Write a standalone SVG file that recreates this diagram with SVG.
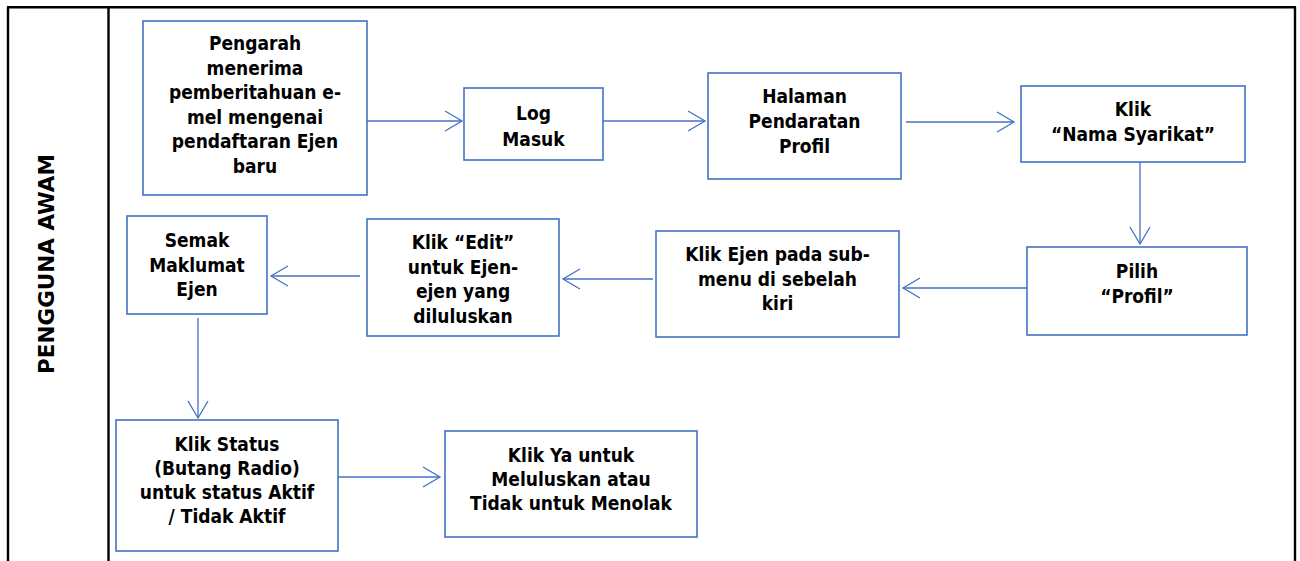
<svg xmlns="http://www.w3.org/2000/svg" width="1300" height="561" viewBox="0 0 1300 561">
<style>
.bx{fill:#fff;stroke:#4472C4;stroke-width:1.6}
.t{font-family:"DejaVu Sans Condensed","DejaVu Sans",sans-serif;font-stretch:condensed;font-weight:bold;font-size:19px;fill:#000;text-anchor:middle}
.c{fill:none;stroke:#4472C4;stroke-width:1.3}
.fr{stroke:#000;stroke-width:2.4;fill:none}
.lane{font-family:"DejaVu Sans",sans-serif;font-weight:bold;font-size:21.5px;fill:#000;text-anchor:middle}
</style>
<defs>
<marker id="ah" markerUnits="userSpaceOnUse" markerWidth="20" markerHeight="24" viewBox="-18 -12 20 24" refX="0" refY="0" orient="auto">
<path d="M-17,-10 L0,0 L-17,10" fill="none" stroke="#4472C4" stroke-width="1.3"/>
</marker>
</defs>
<rect width="1300" height="561" fill="#fff"/>
<g id="frame">
<path class="fr" d="M7,7.3 H1296 M8,7 V561 M108.5,7 V561 M1295,7 V561"/>
<text class="lane" transform="translate(54,264) rotate(-90)">PENGGUNA AWAM</text>
</g>
<g id="connectors">
<line class="c" x1="367" y1="121" x2="462" y2="121" marker-end="url(#ah)"/>
<line class="c" x1="603" y1="121" x2="705" y2="121" marker-end="url(#ah)"/>
<line class="c" x1="906" y1="122" x2="1014" y2="122" marker-end="url(#ah)"/>
<line class="c" x1="1140" y1="142" x2="1140" y2="244" marker-end="url(#ah)"/>
<line class="c" x1="1027" y1="288" x2="903" y2="288" marker-end="url(#ah)"/>
<line class="c" x1="653" y1="279" x2="563" y2="279" marker-end="url(#ah)"/>
<line class="c" x1="360" y1="276" x2="271" y2="276" marker-end="url(#ah)"/>
<line class="c" x1="198" y1="318" x2="198" y2="418" marker-end="url(#ah)"/>
<line class="c" x1="338" y1="477" x2="440" y2="477" marker-end="url(#ah)"/>
</g>
<g id="n1">
<rect class="bx" x="143" y="21" width="224" height="174"/>
<text class="t" x="255" y="50">Pengarah</text>
<text class="t" x="255" y="74.5">menerima</text>
<text class="t" x="255" y="99">pemberitahuan e-</text>
<text class="t" x="255" y="123.5">mel mengenai</text>
<text class="t" x="255" y="148">pendaftaran Ejen</text>
<text class="t" x="255" y="172.5">baru</text>
</g>
<g id="n2">
<rect class="bx" x="464" y="88" width="139" height="72"/>
<text class="t" x="533.5" y="120">Log</text>
<text class="t" x="533.5" y="146">Masuk</text>
</g>
<g id="n3">
<rect class="bx" x="708" y="73" width="193" height="106"/>
<text class="t" x="804.5" y="103">Halaman</text>
<text class="t" x="804.5" y="128">Pendaratan</text>
<text class="t" x="804.5" y="153">Profil</text>
</g>
<g id="n4">
<rect class="bx" x="1021" y="86" width="224" height="76"/>
<text class="t" x="1133" y="116">Klik</text>
<text class="t" x="1133" y="141">“Nama Syarikat”</text>
</g>
<g id="n5">
<rect class="bx" x="1027" y="247" width="220" height="88"/>
<text class="t" x="1137" y="278">Pilih</text>
<text class="t" x="1137" y="303">“Profil”</text>
</g>
<g id="n6">
<rect class="bx" x="656" y="231" width="243" height="106"/>
<text class="t" x="777.5" y="261">Klik Ejen pada sub-</text>
<text class="t" x="777.5" y="285.5">menu di sebelah</text>
<text class="t" x="777.5" y="310">kiri</text>
</g>
<g id="n7">
<rect class="bx" x="367" y="219" width="192" height="117"/>
<text class="t" x="463" y="249">Klik “Edit”</text>
<text class="t" x="463" y="273.5">untuk Ejen-</text>
<text class="t" x="463" y="298">ejen yang</text>
<text class="t" x="463" y="322.5">diluluskan</text>
</g>
<g id="n8">
<rect class="bx" x="127" y="216" width="140" height="98"/>
<text class="t" x="197" y="247">Semak</text>
<text class="t" x="197" y="271.5">Maklumat</text>
<text class="t" x="197" y="296">Ejen</text>
</g>
<g id="n9">
<rect class="bx" x="116" y="420" width="222" height="131"/>
<text class="t" x="227" y="451">Klik Status</text>
<text class="t" x="227" y="475">(Butang Radio)</text>
<text class="t" x="227" y="499">untuk status Aktif</text>
<text class="t" x="227" y="523">/ Tidak Aktif</text>
</g>
<g id="n10">
<rect class="bx" x="445" y="431" width="252" height="106"/>
<text class="t" x="571" y="462">Klik Ya untuk</text>
<text class="t" x="571" y="486">Meluluskan atau</text>
<text class="t" x="571" y="510">Tidak untuk Menolak</text>
</g>
</svg>
